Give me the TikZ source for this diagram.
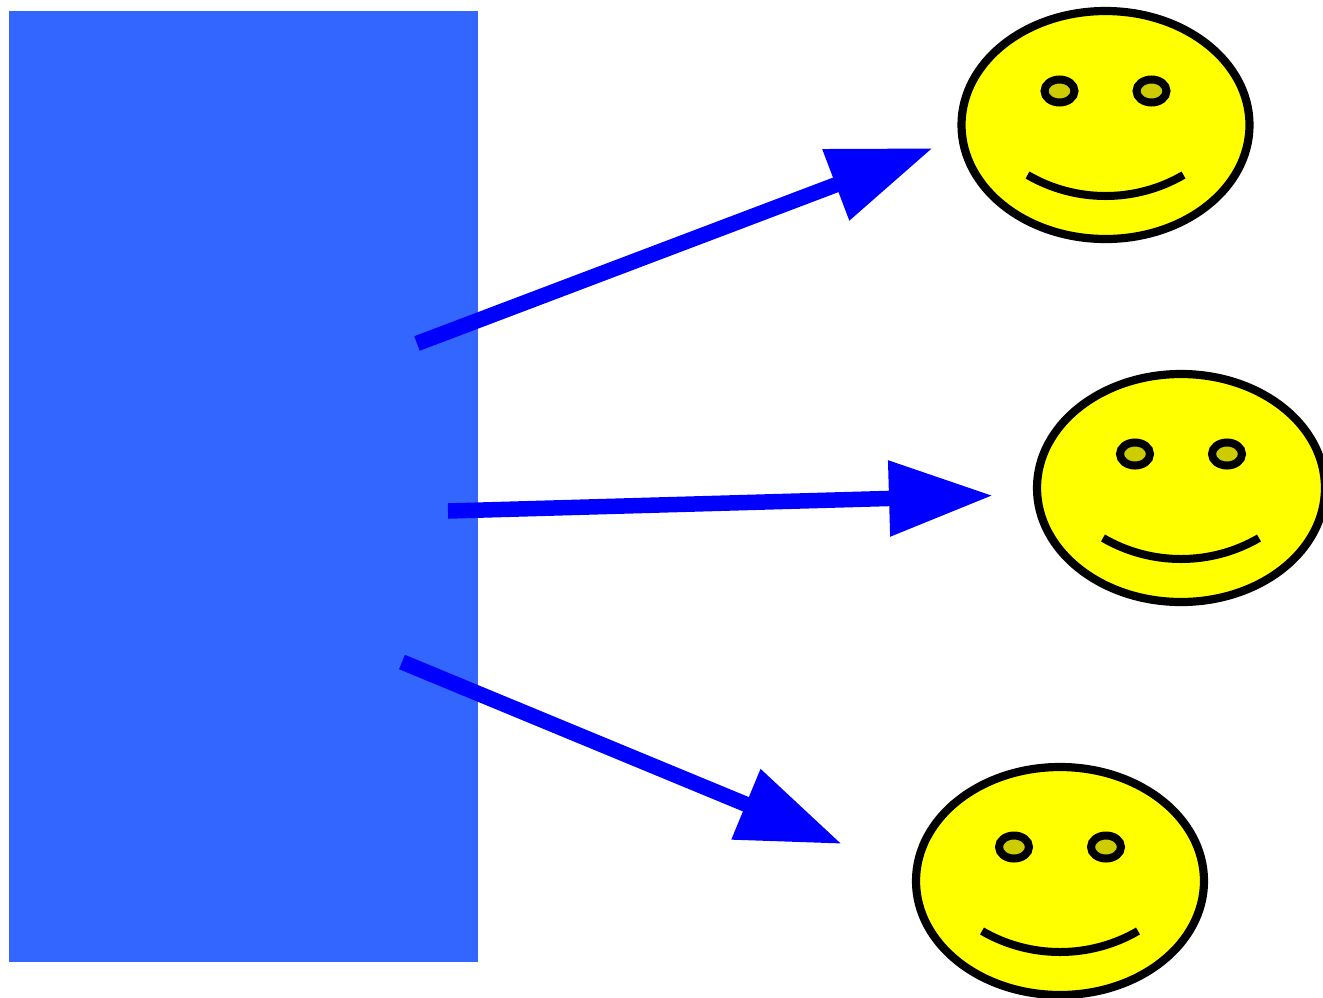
\documentclass[tikz,border=0pt]{standalone}
\usetikzlibrary{arrows.meta}
\definecolor{panelblue}{HTML}{3366FF}
\definecolor{faceyellow}{HTML}{FFFF00}
\definecolor{eyeyellow}{HTML}{CCCC00}
\definecolor{arrowblue}{HTML}{0000FF}
\tikzset{
  panel/.style={fill=panelblue,draw=none},
  facebody/.style={draw=black,line width=8.2pt,fill=faceyellow},
  eyeball/.style={draw=black,line width=8pt,fill=eyeyellow},
  smileline/.style={draw=black,line width=8pt},
  bigarrow/.style={draw=arrowblue,line width=15.5pt,
    -{Triangle[length=104pt,width=72pt,fill=arrowblue]}}
}
\newcommand{\smiley}[2]{%
  \begin{scope}[shift={(#1,#2)}]
    \path[facebody] (0,0) ellipse [x radius=144,y radius=114];
    \path[eyeball] (-46,-34) ellipse [x radius=15,y radius=11.5];
    \path[eyeball] (46,-34) ellipse [x radius=15,y radius=11.5];
    \path[smileline] (-78,50) .. controls (-30,78) and (30,78) .. (78,50);
  \end{scope}}
\begin{document}
\begin{tikzpicture}[x=1pt,y=-1pt]
\useasboundingbox (0,0) rectangle (1323,997);
\path[panel] (9,11) rectangle (478,962);
\smiley{1105.5}{125}
\smiley{1181}{488}
\smiley{1060}{881}
\coordinate (s1) at (417,343.5);
\coordinate (e1) at (933,148);
\coordinate (s2) at (448,511);
\coordinate (e2) at (993,495.5);
\coordinate (s3) at (402,662);
\coordinate (e3) at (842,844);
\draw[bigarrow] (s1) -- (e1);
\draw[bigarrow] (s2) -- (e2);
\draw[bigarrow] (s3) -- (e3);
\end{tikzpicture}
\end{document}
